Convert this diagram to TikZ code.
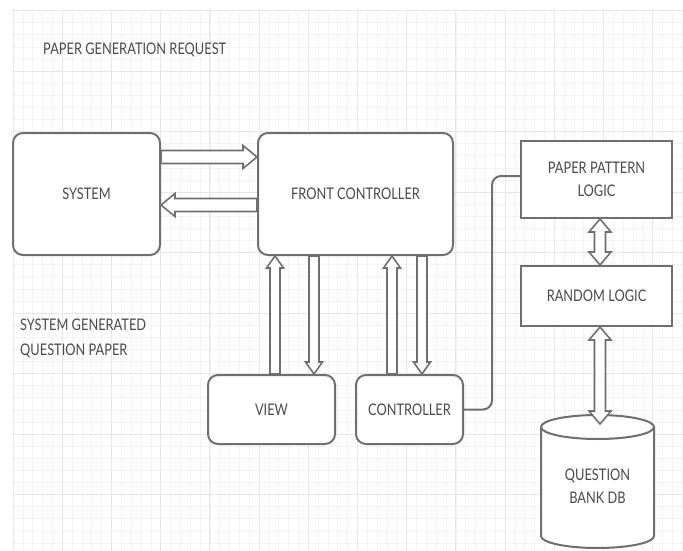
\documentclass[tikz,border=0pt]{standalone}
\usepackage{fontspec}
\setmainfont[FakeStretch=0.8]{Lato}
\usetikzlibrary{calc}
\definecolor{ln}{HTML}{6F6F6F}
\definecolor{tx}{HTML}{4A4A4A}
\definecolor{gmaj}{HTML}{E6E6E6}
\definecolor{gmin}{HTML}{F3F3F3}
\tikzset{
  box/.style={draw=ln, line width=2pt, rounded corners=10pt, fill=white, text=tx, align=center, inner sep=0pt, font=\fontsize{16}{23}\selectfont},
  sqbox/.style={draw=ln, line width=2pt, fill=white, text=tx, align=center, inner sep=0pt, font=\fontsize{16}{23}\selectfont},
  lbl/.style={text=tx, align=left, inner sep=0pt, anchor=west, font=\fontsize{16}{25}\selectfont},
  barr/.style={draw=ln, line width=1.6pt, fill=white, line join=miter},
  conn/.style={draw=ln, line width=2pt, rounded corners=9pt},
}
% single block arrow: from, to, shaft half width, head half width, head length
\newcommand\blockarr[5]{%
  \coordinate (bah) at ($(#2)!#5!(#1)$);
  \path[barr] ($(#1)!#3!90:(#2)$) -- ($(bah)!#3!90:(#2)$) -- ($(bah)!#4!90:(#2)$) -- (#2)
    -- ($(bah)!#4!-90:(#2)$) -- ($(bah)!#3!-90:(#2)$) -- ($(#1)!#3!-90:(#2)$) -- cycle;}
% double block arrow
\newcommand\dblarr[5]{%
  \coordinate (dha) at ($(#1)!#5!(#2)$);
  \coordinate (dhb) at ($(#2)!#5!(#1)$);
  \path[barr] (#1) -- ($(dha)!#4!90:(#2)$) -- ($(dha)!#3!90:(#2)$) -- ($(dhb)!#3!90:(#2)$)
    -- ($(dhb)!#4!90:(#2)$) -- (#2) -- ($(dhb)!#4!-90:(#2)$) -- ($(dhb)!#3!-90:(#2)$)
    -- ($(dha)!#3!-90:(#2)$) -- ($(dha)!#4!-90:(#2)$) -- cycle;}
\begin{document}
\begin{tikzpicture}[x=1pt,y=-1pt]
\useasboundingbox (0,0) rectangle (683,551);
\fill[white] (0,0) rectangle (683,551);
% grid
\begin{scope}
  \clip (12,10) rectangle (683,551);
  \foreach \i in {0,...,70} \draw[gmin, line width=0.5pt] ({13+\i*9.84},10) -- ({13+\i*9.84},551);
  \foreach \j in {0,...,45} \draw[gmin, line width=0.5pt] (12,{10.5+\j*12.1}) -- (683,{10.5+\j*12.1});
  \foreach \i in {0,...,14} \draw[gmaj, line width=0.9pt] ({13+\i*49.2},10) -- ({13+\i*49.2},551);
  \foreach \j in {0,...,9} \draw[gmaj, line width=0.9pt] (12,{10.5+\j*60.5}) -- (683,{10.5+\j*60.5});
\end{scope}

% free labels
\node[lbl] (req) at (43,50) {PAPER GENERATION REQUEST};
\node[lbl] (sgq) at (20,338.5) {SYSTEM GENERATED\\QUESTION PAPER};

% boxes
\node[box, minimum width=147pt, minimum height=122pt] (sys) at (86.5,194) {SYSTEM};
\node[box, minimum width=195pt, minimum height=122pt] (fc) at (355.5,194) {FRONT CONTROLLER};
\node[box, minimum width=127pt, minimum height=69pt] (view) at (271.5,409.5) {VIEW};
\node[box, minimum width=107pt, minimum height=69pt] (ctrl) at (409.5,409.5) {CONTROLLER};
\node[sqbox, minimum width=151pt, minimum height=77pt] (pp) at (596.5,179.5) {PAPER PATTERN\\LOGIC};
\node[sqbox, minimum width=151pt, minimum height=60pt] (rl) at (596.5,296) {RANDOM LOGIC};

% database cylinder
\draw[ln, line width=2pt, fill=white] (541,427) -- (541,536)
  arc[start angle=180, end angle=360, x radius=56.5pt, y radius=12pt] -- (654,427)
  arc[start angle=0, end angle=180, x radius=56.5pt, y radius=12pt] -- cycle;
\draw[ln, line width=2pt] (541,427) arc[start angle=180, end angle=360, x radius=56.5pt, y radius=12pt];
\node[text=tx, align=center, inner sep=0pt, font=\fontsize{16}{23}\selectfont] (db) at (597.5,486) {QUESTION\\BANK DB};
\coordinate (dbtop) at (600,424);

% arrow end points
\coordinate (a1s) at ($(sys.north east)+(0,25)$);
\coordinate (a1e) at ($(fc.north west)+(0,25)$);
\coordinate (a2s) at ($(fc.north west)+(0,73)$);
\coordinate (a2e) at ($(sys.north east)+(0,73)$);
\coordinate (v1s) at (view.north -| 275,0);
\coordinate (v1e) at (fc.south -| 275,0);
\coordinate (v2s) at (fc.south -| 314,0);
\coordinate (v2e) at (view.north -| 314,0);
\coordinate (c1s) at (ctrl.north -| 392,0);
\coordinate (c1e) at (fc.south -| 392,0);
\coordinate (c2s) at (fc.south -| 422,0);
\coordinate (c2e) at (ctrl.north -| 422,0);
\coordinate (p1) at (pp.south -| 600,0);
\coordinate (r1) at (rl.north -| 600,0);
\coordinate (r2) at (rl.south -| 600,0);

\blockarr{a1s}{a1e}{6.5pt}{11.5pt}{14pt}
\blockarr{a2s}{a2e}{6.5pt}{11.5pt}{14pt}
\blockarr{v1s}{v1e}{5pt}{8.5pt}{12pt}
\blockarr{v2s}{v2e}{5pt}{8.5pt}{12pt}
\blockarr{c1s}{c1e}{5pt}{8.5pt}{12pt}
\blockarr{c2s}{c2e}{5pt}{8.5pt}{12pt}
\dblarr{p1}{r1}{5.5pt}{11pt}{13pt}
\dblarr{r2}{dbtop}{5.5pt}{11pt}{13pt}

% connector controller -> paper pattern logic
\coordinate (ppin) at ($(pp.north west)+(0,36)$);
\draw[conn] (ctrl.east) -| ($(ppin)+(-28,0)$) -- (ppin);
\end{tikzpicture}
\end{document}
